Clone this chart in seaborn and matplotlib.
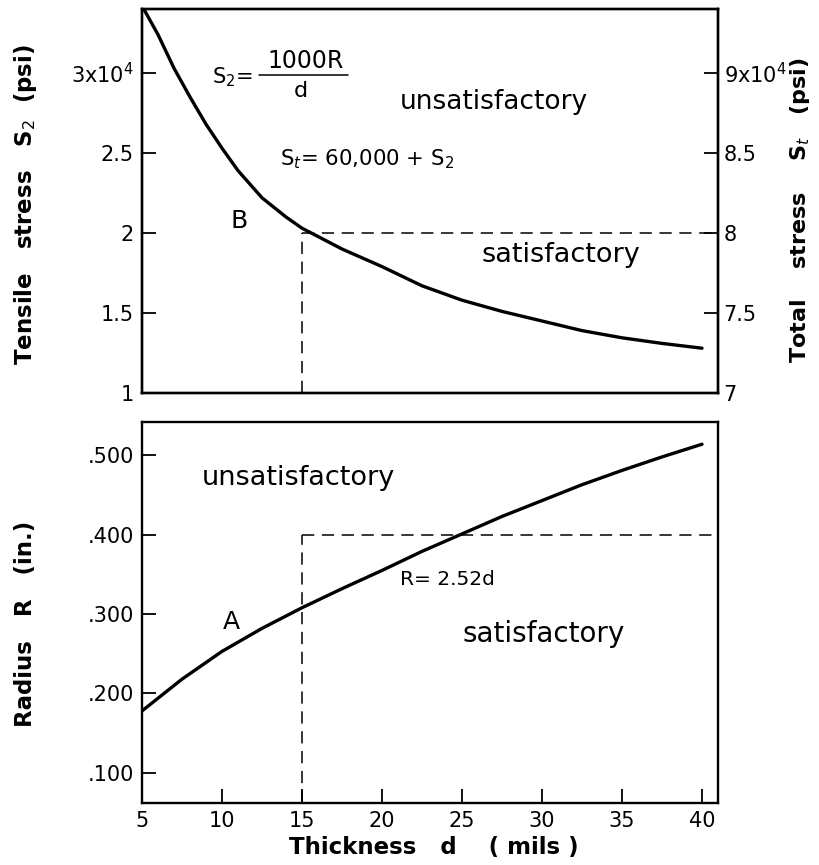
import numpy as np
import pandas as pd
import seaborn as sns
import matplotlib
matplotlib.use("Agg")
import matplotlib.pyplot as plt
from matplotlib.lines import Line2D

# ---- data ----
d_top = [5, 5.5, 6, 7, 8, 9, 10, 11, 12.5, 14, 15, 17.5, 20, 22.5, 25, 27.5, 30, 32.5, 35, 37.5, 40]
s2_top = [3.42, 3.33, 3.24, 3.03, 2.85, 2.68, 2.53, 2.39, 2.22, 2.10, 2.03, 1.90, 1.79, 1.67, 1.58,
          1.51, 1.45, 1.39, 1.345, 1.31, 1.28]          # x 10^4 psi

d_bot = [5, 7.5, 10, 12.5, 15, 17.5, 20, 22.5, 25, 27.5, 30, 32.5, 35, 37.5, 40]
r_bot = [0.178, 0.218, 0.253, 0.282, 0.308, 0.332, 0.355, 0.379, 0.401, 0.423,
         0.443, 0.463, 0.481, 0.498, 0.514]              # inches

d_limit = 15
s2_limit = 2.0
r_limit = 0.400

left_ticks = [1, 1.5, 2, 2.5, 3]
left_labels = ["1", "1.5", "2", "2.5", r"3x10$^4$"]
right_ticks = [7, 7.5, 8, 8.5, 9]
right_labels = ["7", "7.5", "8", "8.5", r"9x10$^4$"]
r_ticks = [0.1, 0.2, 0.3, 0.4, 0.5]
r_labels = [".100", ".200", ".300", ".400", ".500"]
x_ticks = [5, 10, 15, 20, 25, 30, 35, 40]

sns.set_style("white")
plt.rcParams['font.family'] = ['DejaVu Sans']
plt.rcParams['mathtext.fontset'] = 'dejavusans'
for k in ("text.color", "axes.labelcolor", "xtick.color", "ytick.color", "axes.edgecolor"):
    plt.rcParams[k] = "black"

fig = plt.figure(figsize=(8.19, 8.65), dpi=100)
W, H = 819, 865

def pos(x0, x1, ytop, ybot):
    return [x0 / W, 1 - ybot / H, (x1 - x0) / W, (ybot - ytop) / H]

ax1 = fig.add_axes(pos(142, 718, 9, 393))
ax2 = fig.add_axes(pos(142, 718, 422, 803))

XL = (5, 41)
tick_fs = 15
ann_fs = 19
lab_fs = 16.5

# ---------------- top panel ----------------
df_top = pd.DataFrame({"d": d_top, "S2": s2_top})
sns.lineplot(data=df_top, x="d", y="S2", ax=ax1, color="black", linewidth=2.4)
ax1.set_xlim(*XL)
ax1.set_ylim(1, 3.4)
ax1.plot([d_limit, XL[1]], [s2_limit, s2_limit], color="black", lw=1.1, dashes=(8, 5))
ax1.plot([d_limit, d_limit], [1, s2_limit], color="black", lw=1.1, dashes=(8, 5))
ax1.set_xticks([])
ax1.set_xlabel("")
ax1.set_yticks(left_ticks)
ax1.set_yticklabels(left_labels, fontsize=tick_fs)
ax1.tick_params(axis="y", direction="in", length=10, width=1.3, pad=6, left=True)
ax1.set_ylabel(r"Tensile   stress   S$_2$  (psi)", fontsize=lab_fs, fontweight="bold",
               va="center")
ax1.yaxis.set_label_coords(-0.203, 0.49)

ax1r = ax1.twinx()
ax1r.set_position(pos(142, 718, 9, 393))
ax1r.set_ylim(7, 9.4)
ax1r.set_yticks(right_ticks)
ax1r.set_yticklabels(right_labels, fontsize=tick_fs)
ax1r.tick_params(axis="y", direction="in", length=10, width=1.3, pad=4, right=True)
ax1r.set_ylabel(r"Total    stress    S$_t$   (psi)", fontsize=16, fontweight="bold",
                rotation=90, va="center")
ax1r.yaxis.set_label_coords(1.143, 0.477)

# annotations, top
ax1.text(9.4, 2.975, r"S$_2$=", fontsize=15, va="center", ha="left")
ax1.text(15.2, 3.075, "1000R", fontsize=17, va="center", ha="center")
ax1.add_line(Line2D([12.3, 17.9], [2.99, 2.99], color="black", lw=1.1))
ax1.text(14.9, 2.89, "d", fontsize=16, va="center", ha="center")
ax1.text(21.1, 2.82, "unsatisfactory", fontsize=ann_fs, va="center", ha="left")
ax1.text(13.6, 2.46, r"S$_t$= 60,000 + S$_2$", fontsize=15.3, va="center", ha="left")
ax1.text(11.1, 2.075, "B", fontsize=18, va="center", ha="center")
ax1.text(26.2, 1.86, "satisfactory", fontsize=ann_fs + 0.5, va="center", ha="left")

# ---------------- bottom panel ----------------
df_bot = pd.DataFrame({"d": d_bot, "R": r_bot})
sns.lineplot(data=df_bot, x="d", y="R", ax=ax2, color="black", linewidth=2.4)
ax2.set_xlim(*XL)
ax2.set_ylim(0.062, 0.542)
ax2.plot([d_limit, XL[1]], [r_limit, r_limit], color="black", lw=1.1, dashes=(8, 5))
ax2.plot([d_limit, d_limit], [0.062, r_limit], color="black", lw=1.1, dashes=(8, 5))
ax2.set_xticks(x_ticks)
ax2.set_xticklabels([str(v) for v in x_ticks], fontsize=tick_fs)
ax2.set_yticks(r_ticks)
ax2.set_yticklabels(r_labels, fontsize=tick_fs)
ax2.tick_params(axis="both", direction="in", length=10, width=1.3, pad=6,
                left=True, bottom=True)
ax2.set_ylabel("Radius   R   (in.)", fontsize=lab_fs, fontweight="bold", va="center")
ax2.yaxis.set_label_coords(-0.203, 0.47)
ax2.set_xlabel("Thickness   d    ( mils )", fontsize=lab_fs, fontweight="bold", va="center")
ax2.xaxis.set_label_coords(0.507, -0.118)

ax2.text(8.75, 0.471, "unsatisfactory", fontsize=ann_fs + 0.5, va="center", ha="left")
ax2.text(10.6, 0.29, "A", fontsize=18, va="center", ha="center")
ax2.text(21.1, 0.343, "R= 2.52d", fontsize=14.5, va="center", ha="left")
ax2.text(25.06, 0.275, "satisfactory", fontsize=ann_fs + 1, va="center", ha="left")

for a in (ax1, ax1r, ax2):
    for s in a.spines.values():
        s.set_visible(True)
        s.set_color("black")
        s.set_linewidth(1.7)

fig.savefig("out.png", dpi=100, facecolor="white")
